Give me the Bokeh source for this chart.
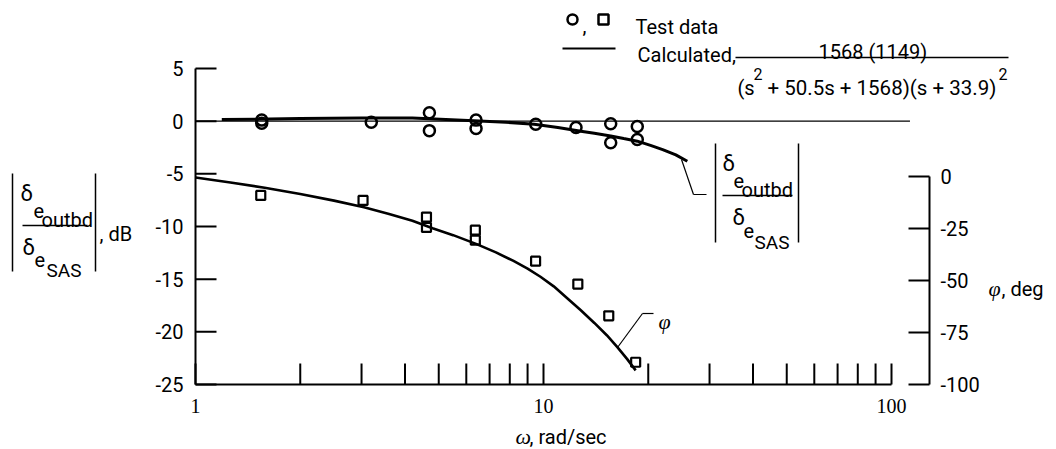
from bokeh.plotting import figure
from bokeh.models import Range1d, Label
from bokeh.embed import file_html
from bokeh.resources import INLINE

# ---------------- data ----------------
# magnitude test data (circles), dB
w_mag_test = [1.55, 1.55, 3.2, 4.7, 4.7, 6.4, 6.4, 9.5, 12.4, 15.6, 15.6, 18.6, 18.6]
db_mag_test = [0.1, -0.2, -0.1, 0.8, -0.9, 0.1, -0.7, -0.3, -0.6, -0.25, -2.05, -0.5, -1.75]

# phase test data (squares), deg
w_ph_test = [1.54, 3.03, 4.61, 4.61, 6.37, 6.37, 9.49, 12.55, 15.4, 18.4]
deg_ph_test = [-9.1, -11.5, -19.5, -24.5, -25.8, -30.6, -40.7, -51.7, -67.0, -89.3]

# calculated magnitude curve, dB
w_mag_calc = [1.19, 2.0, 3.0, 4.2, 6.3, 7.8, 9.4, 11.0, 12.8, 14.0, 15.6, 17.0, 18.6, 20.3, 22.0, 24.0, 25.9]
db_mag_calc = [0.15, 0.25, 0.3, 0.3, 0.05, -0.1, -0.3, -0.6, -0.95, -1.15, -1.4, -1.65, -1.9, -2.3, -2.7, -3.2, -3.8]

# calculated phase curve, deg
w_ph_calc = [1.0, 1.26, 1.58, 2.0, 2.5, 3.05, 3.6, 4.2, 4.8, 5.5, 6.4, 7.3, 8.2, 9.0, 9.8,
             10.7, 11.7, 12.8, 14.0, 15.2, 16.3, 17.4, 18.4]
deg_ph_calc = [-0.5, -2.9, -5.4, -8.4, -11.6, -14.8, -18.0, -21.3, -24.9, -28.2, -32.4, -36.5, -40.6,
               -44.3, -48.2, -52.8, -58.5, -64.3, -70.4, -76.3, -82.0, -87.8, -93.2]

# zero-dB reference line
w_zero = [1.0, 113.0]
db_zero = [0.0, 0.0]

# axes
x_axis_span = [1, 100]
x_ticks = [1, 2, 3, 4, 5, 6, 7, 8, 9, 10, 20, 30, 40, 50, 60, 70, 80, 90, 100]
x_label_ticks = [1, 10, 100]
x_label_text = ["1", "10", "100"]
db_ticks = [5, 0, -5, -10, -15, -20, -25]
db_tick_text = ["5", "0", "-5", "-10", "-15", "-20", "-25"]
deg_ticks = [0, -25, -50, -75, -100]
deg_tick_text = ["0", "-25", "-50", "-75", "-100"]

FONT = "Roboto"
FS = "20px"
SERIF = "Liberation Serif"

# ---------------- layout helpers (picture px -> data) ----------------
FL, FB = 195, 384           # x=1 and y=-25 dB in the picture
DEC = 348.0                 # px per decade
DB_PX = 316.0 / 30.0        # px per dB
DEG0, DEG_PX = 176.0, 2.08  # picture y of 0 deg, px per deg


def X(px):
    return 10 ** ((px - FL) / DEC)


def Y(py):
    return -25 + (FB - py) / DB_PX


def P(py):
    return -(py - DEG0) / DEG_PX


W, H = 1056, 449
p = figure(width=W, height=H, x_axis_type="log", x_axis_location=None, y_axis_location=None,
           x_range=Range1d(X(0), X(W)), y_range=Range1d(Y(H), Y(0)),
           output_backend="svg", toolbar_location=None,
           min_border_left=0, min_border_right=0, min_border_top=0, min_border_bottom=0)
p.title_location = None
p.outline_line_color = None
p.grid.visible = False
p.background_fill_color = "white"
p.border_fill_color = "white"
p.extra_y_ranges = {"phase": Range1d(P(H), P(0))}

AX_W = 2
TICK_PX = 21
XR = X(929)  # right axis position

# bottom axis
p.segment(x0=[x_axis_span[0]], y0=[-25], x1=[x_axis_span[1]], y1=[-25], line_width=AX_W, line_color="black")
p.segment(x0=x_ticks, y0=[-25] * len(x_ticks), x1=x_ticks, y1=[-25 + TICK_PX / DB_PX] * len(x_ticks),
          line_width=AX_W, line_color="black")
p.text(x=x_label_ticks, y=[-25] * 3, text=x_label_text, y_offset=14, text_align="center",
       text_baseline="top", text_font={"value": SERIF}, text_font_size=FS, text_color="black")
# left axis
p.segment(x0=[1], y0=[db_ticks[-1]], x1=[1], y1=[db_ticks[0]], line_width=AX_W, line_color="black")
p.segment(x0=[1] * len(db_ticks), y0=db_ticks, x1=[X(FL + TICK_PX)] * len(db_ticks), y1=db_ticks,
          line_width=AX_W, line_color="black")
p.text(x=[1] * len(db_ticks), y=db_ticks, text=db_tick_text, x_offset=-12, text_align="right",
       text_baseline="middle", text_font={"value": FONT}, text_font_size=FS, text_color="black")
# right axis (phase)
p.segment(x0=[XR], y0=[deg_ticks[-1]], x1=[XR], y1=[deg_ticks[0]], line_width=AX_W,
          line_color="black", y_range_name="phase")
p.segment(x0=[X(929 - TICK_PX)] * len(deg_ticks), y0=deg_ticks, x1=[XR] * len(deg_ticks), y1=deg_ticks,
          line_width=AX_W, line_color="black", y_range_name="phase")
p.text(x=[XR] * len(deg_ticks), y=deg_ticks, text=deg_tick_text, x_offset=11, text_align="left",
       text_baseline="middle", text_font={"value": FONT}, text_font_size=FS, text_color="black",
       y_range_name="phase")

# ---------------- data marks ----------------
p.line(w_zero, db_zero, line_color="black", line_width=1.3)
p.line(w_mag_calc, db_mag_calc, line_color="black", line_width=3)
p.line(w_ph_calc, deg_ph_calc, line_color="black", line_width=2.6, y_range_name="phase")
p.scatter(w_mag_test, db_mag_test, marker="circle", size=11, fill_color=None,
          line_color="black", line_width=2.5)
p.scatter(w_ph_test, deg_ph_test, marker="square", size=9, fill_color=None,
          line_color="black", line_width=2.2, y_range_name="phase")


# ---------------- annotations ----------------
def lab(text, px, py, size=FS, font=FONT, style="normal", align="left"):
    p.add_layout(Label(x=X(px), y=Y(py), text=text, text_font=font,
                       text_font_size=size, text_font_style=style,
                       text_align=align, text_baseline="alphabetic",
                       text_color="black"))


def seg(x1, y1, x2, y2, w=1.5):
    p.segment(x0=[X(x1)], y0=[Y(y1)], x1=[X(x2)], y1=[Y(y2)], line_width=w, line_color="black")


# left y label: |d e_outbd / d e_SAS|, dB
seg(12, 173, 12, 271)
seg(95, 173, 95, 271)
seg(22, 225, 87, 225)
lab("δ", 20, 193, "22px")
lab("e", 33, 210)
lab("outbd", 41, 219)
lab("δ", 22, 247, "22px")
lab("e", 34, 259)
lab("SAS", 46, 270, "19px")
lab(", dB", 99, 233)

# right-side magnitude label with leader
seg(715, 143, 715, 242)
seg(798, 143, 798, 242)
seg(722, 195, 792, 195)
lab("δ", 722, 163, "22px")
lab("e", 733, 180)
lab("outbd", 741, 189)
lab("δ", 732, 217, "22px")
lab("e", 743, 230)
lab("SAS", 754, 242, "19px")
seg(681, 159, 693, 194, 1.2)
seg(693, 194, 706, 194, 1.2)

# phase label with leader
seg(617, 347, 642, 313, 1.2)
seg(642, 313, 653, 313, 1.2)
lab("φ", 658, 321, "22px", SERIF, "italic")

# right axis label
lab("φ", 988, 288, "22px", SERIF, "italic")
lab(", deg", 1001, 288)

# x axis label
lab("ω", 515, 436, "22px", SERIF, "italic")
lab(", rad/sec", 529, 436)

# legend
p.scatter([X(572)], [Y(19)], marker="circle", size=10, fill_color=None, line_color="black", line_width=2.5)
lab(",", 582, 25)
p.scatter([X(603)], [Y(19)], marker="square", size=10, fill_color=None, line_color="black", line_width=2.5)
lab("Test data", 635, 26)
seg(562, 48, 615, 48, 2)
lab("Calculated,", 637, 54)
seg(735, 57, 1008, 57, 1.3)
lab("1568 (1149)", 818, 51)
lab("(s", 737, 87)
lab("2", 753, 73, "16px")
lab("+ 50.5s + 1568)(s + 33.9)", 767, 87, "20.5px")
lab("2", 998, 73, "16px")

open("out.html", "w").write(file_html(p, INLINE))
